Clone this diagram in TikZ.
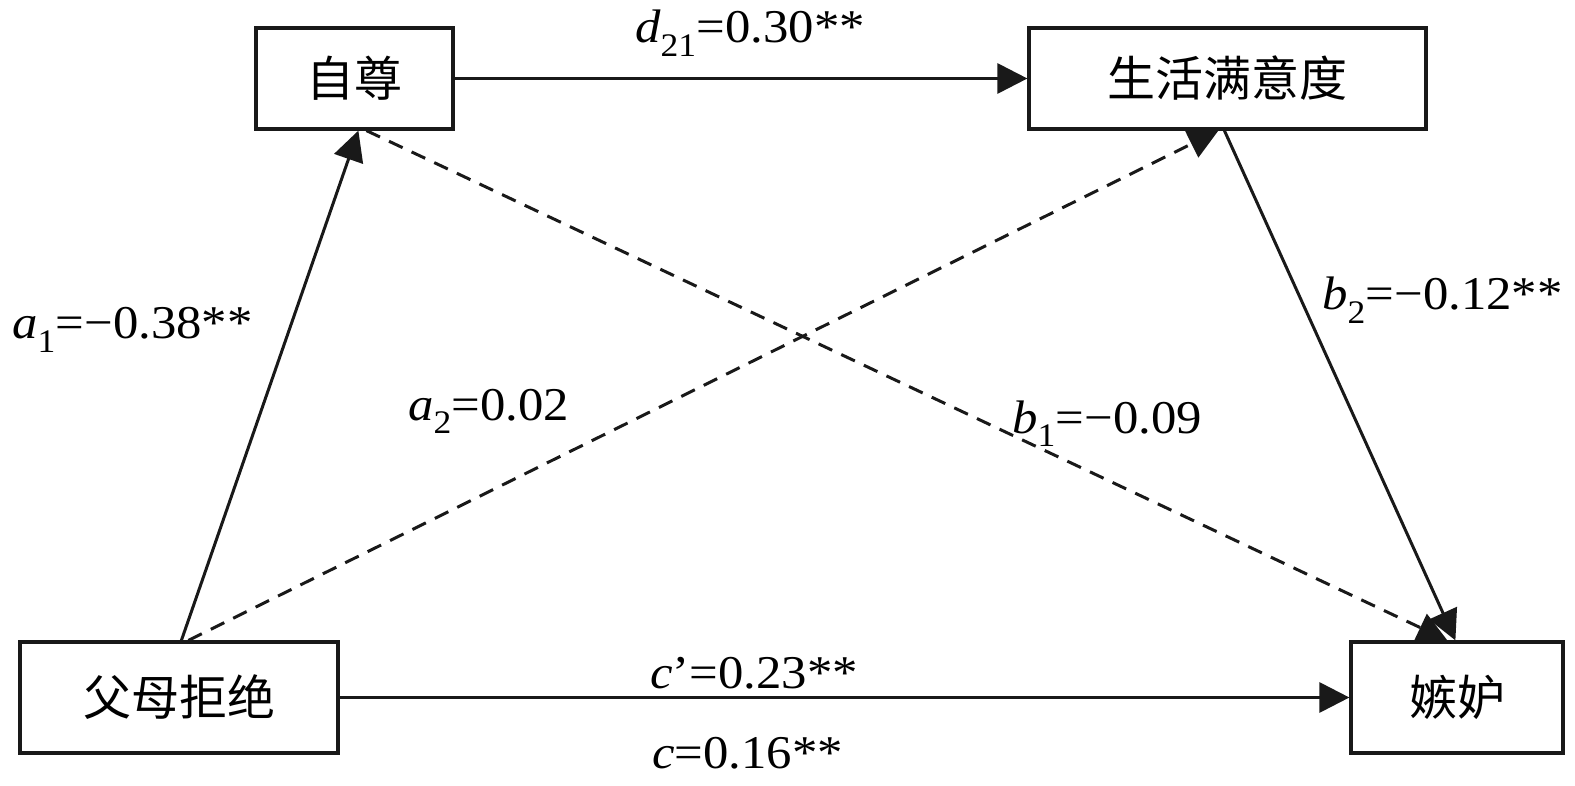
\documentclass[tikz,border=0pt]{standalone}
\usepackage{fontspec}
\usepackage{graphicx}
\setmainfont{Liberation Serif}
\newfontfamily\cjk{Noto Sans CJK SC}
\usetikzlibrary{arrows.meta}
\tikzset{
  box/.style={draw=black!90, line width=3.2pt, minimum width=#1, inner sep=0pt, font=\cjk\fontsize{48}{56}\selectfont},
  conn/.style={line width=3pt, draw=black!90, -{Triangle[length=30pt,width=30pt]}},
  dconn/.style={conn, dash pattern=on 15pt off 10pt},
  lab/.style={font=\fontsize{47}{56}\selectfont, inner sep=0pt, anchor=base west}
}
\newcommand{\wide}[1]{\scalebox{1.08}[1]{#1}}
\begin{document}
\begin{tikzpicture}[x=1pt,y=-1pt]
\useasboundingbox (0,0) rectangle (1575,786);
\node[box=197pt, minimum height=101pt] (zz) at (354.5,78.5) {自尊};
\node[box=397pt, minimum height=101pt] (sh) at (1227.5,78.5) {生活满意度};
\node[box=318pt, minimum height=111pt] (pr) at (179,697.5) {父母拒绝};
\node[box=212pt, minimum height=111pt] (jd) at (1457,697.5) {嫉妒};
\draw[conn] (zz.east) -- (sh.west);
\draw[conn] (pr.east) -- (jd.west);
\draw[conn] ([xshift=163pt]pr.north west) -- ([xshift=104pt]zz.south west);
\draw[dconn] ([xshift=170pt]pr.north west) -- ([xshift=191pt]sh.south west);
\draw[dconn] ([xshift=112pt]zz.south west) -- ([xshift=98pt]jd.north west);
\draw[conn] ([xshift=197pt]sh.south west) -- ([xshift=106pt]jd.north west);
\node[lab] (ld) at (635,43) {\wide{\textit{d}\textsubscript{21}=0.30**}};
\node[lab] (la1) at (12,339) {\wide{\textit{a}\textsubscript{1}=−0.38**}};
\node[lab] (la2) at (408,420) {\wide{\textit{a}\textsubscript{2}=0.02}};
\node[lab] (lb1) at (1012,433) {\wide{\textit{b}\textsubscript{1}=−0.09}};
\node[lab] (lb2) at (1322,310) {\wide{\textit{b}\textsubscript{2}=−0.12**}};
\node[lab] (lcp) at (650,688) {\wide{\textit{c}’=0.23**}};
\node[lab] (lc) at (652,768) {\wide{\textit{c}=0.16**}};
\end{tikzpicture}
\end{document}
